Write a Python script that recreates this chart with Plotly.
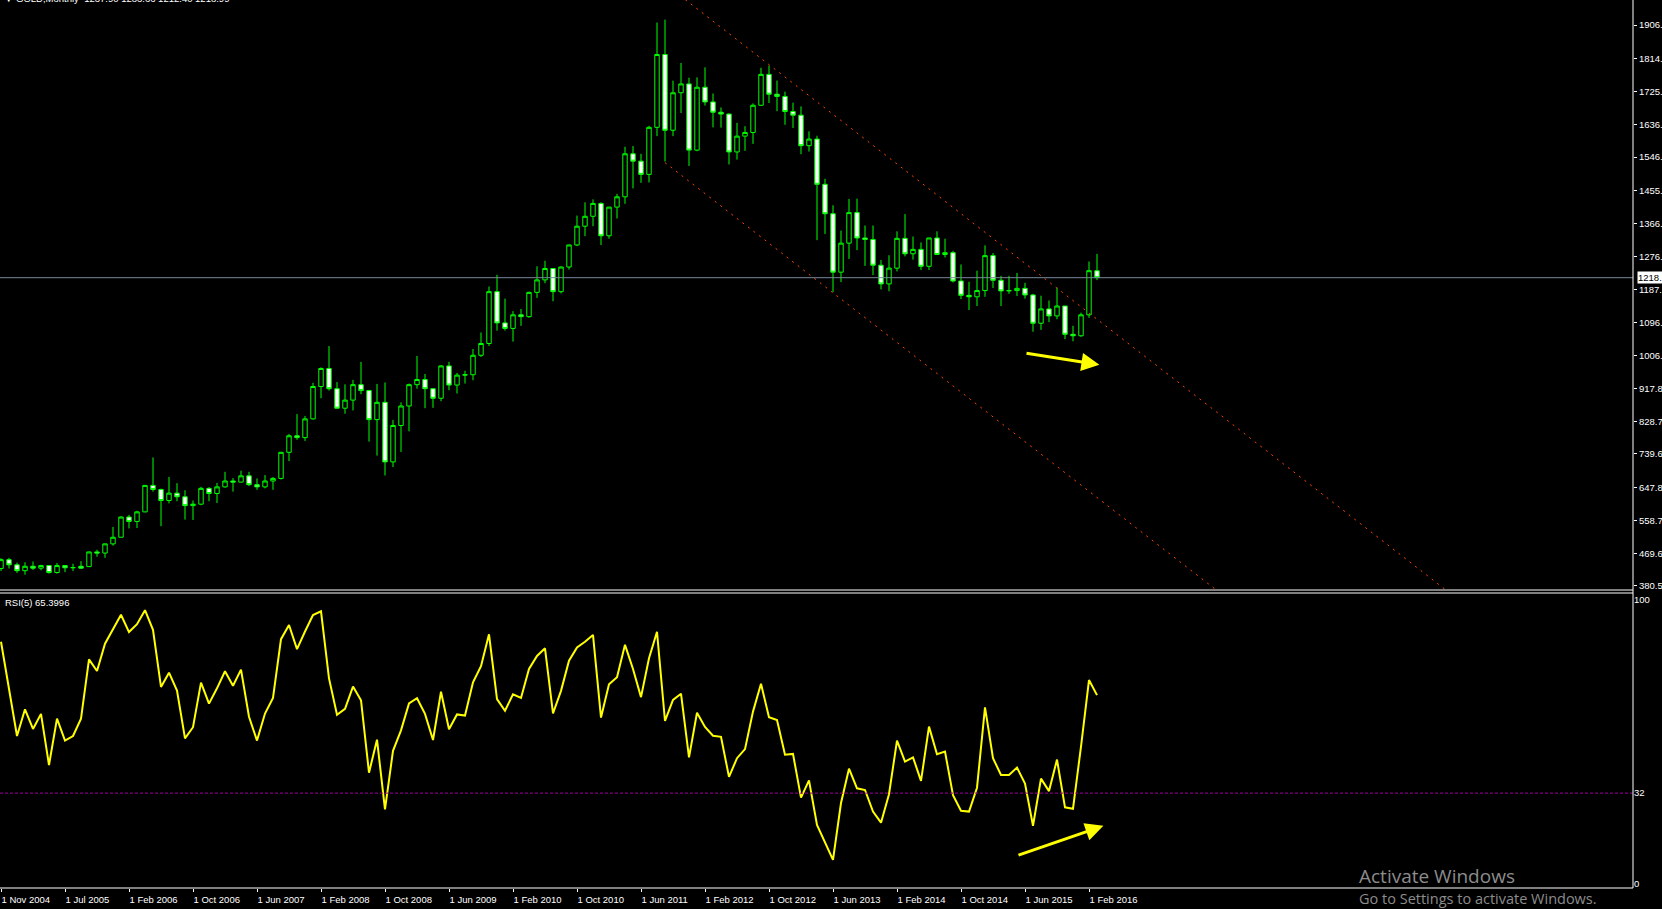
import plotly.graph_objects as go

# ---------------- data (monthly GOLD bars, index 0 = first visible bar) ----------------
bar_index = list(range(138))
opens = [428, 452, 438, 422, 434, 429, 436, 417, 436, 430, 434, 433, 473, 470, 495, 513, 568, 556, 582, 654,
         643, 613, 633, 623, 599, 603, 646, 632, 650, 666, 663, 680, 656, 650, 666, 673, 744, 789, 784, 835,
         923, 972, 917, 864, 886, 928, 912, 833, 880, 718, 817, 870, 928, 942, 917, 891, 979, 927, 954, 955,
         1008, 1040, 1181, 1096, 1081, 1118, 1113, 1179, 1213, 1244, 1181, 1248, 1308, 1359, 1386, 1421, 1333, 1411, 1439, 1556,
         1536, 1500, 1628, 1826, 1620, 1722, 1746, 1566, 1737, 1697, 1669, 1664, 1561, 1604, 1614, 1688, 1772, 1718, 1712, 1671,
         1661, 1578, 1596, 1473, 1393, 1234, 1313, 1396, 1327, 1323, 1253, 1202, 1245, 1326, 1284, 1296, 1250, 1327, 1282, 1287,
         1210, 1171, 1167, 1184, 1279, 1212, 1183, 1184, 1190, 1172, 1095, 1134, 1115, 1142, 1065, 1061, 1118, 1237.90]
highs = [456, 457, 444, 445, 447, 438, 437, 443, 437, 441, 448, 474, 479, 496, 541, 570, 574, 585, 655, 730,
         645, 677, 660, 641, 613, 650, 649, 661, 691, 674, 694, 691, 673, 682, 677, 745, 794, 848, 843, 933,
         975, 1033, 935, 929, 941, 990, 914, 930, 934, 832, 880, 931, 1006, 957, 917, 981, 990, 960, 966, 1025,
         1070, 1195, 1227, 1162, 1128, 1134, 1181, 1250, 1265, 1245, 1250, 1309, 1388, 1424, 1432, 1424, 1411, 1447, 1575, 1577,
         1556, 1632, 1913, 1921, 1755, 1803, 1763, 1764, 1791, 1720, 1682, 1666, 1640, 1631, 1693, 1790, 1796, 1755, 1725, 1695,
         1685, 1617, 1605, 1488, 1416, 1347, 1433, 1434, 1361, 1361, 1267, 1280, 1345, 1392, 1331, 1315, 1326, 1345, 1325, 1292,
         1255, 1208, 1238, 1307, 1286, 1224, 1224, 1232, 1205, 1175, 1170, 1157, 1192, 1142, 1088, 1124, 1263, 1283.66]
lows = [421, 428, 416, 411, 424, 423, 414, 414, 418, 421, 427, 432, 460, 457, 490, 513, 537, 538, 581, 637,
        543, 605, 611, 561, 560, 600, 611, 606, 648, 637, 662, 652, 642, 646, 642, 670, 720, 778, 775, 833,
        891, 912, 862, 849, 858, 902, 773, 735, 681, 704, 745, 801, 917, 864, 865, 883, 913, 904, 931, 940,
        1003, 1033, 1075, 1075, 1045, 1088, 1110, 1164, 1204, 1155, 1176, 1241, 1305, 1332, 1359, 1308, 1325, 1380, 1420, 1462,
        1477, 1478, 1604, 1535, 1604, 1667, 1523, 1563, 1687, 1628, 1627, 1527, 1540, 1564, 1583, 1686, 1694, 1672, 1635, 1626,
        1555, 1562, 1321, 1338, 1180, 1207, 1270, 1294, 1251, 1226, 1187, 1182, 1236, 1277, 1268, 1240, 1240, 1282, 1274, 1206,
        1161, 1131, 1142, 1167, 1191, 1142, 1175, 1169, 1162, 1072, 1077, 1098, 1106, 1052, 1046, 1058, 1110, 1212.40]
closes = [452, 438, 422, 434, 429, 436, 417, 436, 430, 430.5, 429, 473, 470, 495, 513, 568, 556, 582, 654, 643,
          613, 633, 623, 599, 603, 646, 632, 650, 666, 663, 680, 656, 650, 666, 673, 744, 789, 784, 835, 923,
          972, 917, 864, 886, 928, 912, 833, 880, 718, 817, 870, 928, 942, 917, 891, 979, 927, 954, 955, 1008,
          1040, 1181, 1096, 1081, 1118, 1113, 1179, 1213, 1244, 1181, 1248, 1308, 1359, 1386, 1421, 1333, 1411, 1439, 1556, 1536,
          1500, 1628, 1826, 1620, 1722, 1746, 1566, 1737, 1697, 1669, 1664, 1561, 1604, 1614, 1688, 1772, 1718, 1712, 1671, 1661,
          1578, 1596, 1473, 1393, 1234, 1313, 1396, 1327, 1323, 1253, 1202, 1245, 1326, 1284, 1296, 1250, 1327, 1282, 1287, 1210,
          1171, 1167, 1184, 1279, 1212, 1183, 1184, 1190, 1172, 1095, 1134, 1115, 1142, 1065, 1061, 1118, 1238, 1218.99]
rsi_values = [85.3, 68.9, 52.1, 61.5, 54.6, 59.9, 41.9, 58.2, 50.5, 52.1, 58.2, 79.1, 75.0, 84.6, 89.8, 94.8, 88.7, 91.5, 96.4, 89.5,
              69.4, 74.4, 68.1, 51.3, 55.2, 70.9, 63.5, 68.9, 74.9, 69.8, 75.5, 58.9, 50.5, 60.0, 65.5, 86.2, 91.2, 82.7, 88.9, 94.7,
              96.0, 72.4, 59.6, 61.7, 69.5, 64.7, 39.2, 50.8, 26.3, 46.9, 54.1, 63.6, 65.4, 59.9, 50.7, 67.7, 54.5, 59.7, 59.3, 71.0,
              76.7, 87.9, 65.1, 61.0, 66.8, 65.5, 75.7, 80.3, 83.0, 60.1, 68.0, 78.6, 83.3, 85.3, 87.7, 58.6, 70.3, 72.8, 84.2, 75.7,
              65.8, 79.5, 88.8, 57.4, 64.8, 67.0, 44.6, 60.3, 55.3, 52.2, 51.8, 37.7, 44.3, 47.5, 60.7, 70.5, 58.7, 57.7, 45.5, 45.8,
              30.4, 36.5, 20.8, 14.7, 8.5, 28.5, 40.6, 33.7, 33.1, 25.5, 21.6, 31.6, 50.5, 43.1, 44.6, 36.3, 55.4, 45.7, 46.6, 31.3,
              25.8, 25.5, 33.9, 62.2, 44.3, 38.4, 38.4, 41.0, 35.4, 20.5, 37.1, 32.7, 43.8, 27.0, 26.5, 48.4, 71.8, 66.5]

time_tick_pos = [0, 8, 16, 24, 32, 40, 48, 56, 64, 72, 80, 88, 96, 104, 112, 120, 128, 136]
time_tick_text = ["1 Nov 2004", "1 Jul 2005", "1 Feb 2006", "1 Oct 2006", "1 Jun 2007", "1 Feb 2008",
                  "1 Oct 2008", "1 Jun 2009", "1 Feb 2010", "1 Oct 2010", "1 Jun 2011", "1 Feb 2012",
                  "1 Oct 2012", "1 Jun 2013", "1 Feb 2014", "1 Oct 2014", "1 Jun 2015", "1 Feb 2016"]
price_tick_vals = [380.5, 469.6, 558.7, 647.8, 739.6, 828.7, 917.8, 1006.9, 1096.0, 1187.7,
                   1276.8, 1366.0, 1455.1, 1546.8, 1636.0, 1725.1, 1814.2, 1906.0]
price_tick_text = ["380.5", "469.6", "558.7", "647.8", "739.6", "828.7", "917.8", "1006.", "1096.", "1187.",
                   "1276.", "1366.", "1455.", "1546.", "1636.", "1725.", "1814.", "1906."]
rsi_tick_vals = [0, 32, 100]
rsi_tick_text = ["0", "32", "100"]
rsi_level = 32
last_price = 1218.99

# drawn objects (bar index, price / rsi)
upper_channel_x = [80.0, 204.0]
upper_channel_y = [2068.8, -25.6]
lower_channel_x = [83.0, 204.0]
lower_channel_y = [1532.0, -509.0]
price_arrow_tail = (128.0, 1014.0)
price_arrow_head = (137.3, 982.0)
rsi_arrow_tail = (127.0, 10.0)
rsi_arrow_head = (137.8, 20.5)

# ---------------- figure ----------------
W, H = 1662, 909
ML, MR, MT, MB = 0, 29, 0, 21
PH = H - MT - MB  # plot height in px
main_top_px, main_bot_px = 0, 590
rsi_top_px, rsi_bot_px = 593, 888


def pfrac(px):
    return (PH - px) / PH


fig = go.Figure()

fig.add_trace(go.Candlestick(
    x=bar_index, open=opens, high=highs, low=lows, close=closes,
    increasing=dict(line=dict(color="#00FF00", width=1), fillcolor="#000000"),
    decreasing=dict(line=dict(color="#00FF00", width=1), fillcolor="#FFFFFF"),
    whiskerwidth=0, showlegend=False, xaxis="x", yaxis="y", hoverinfo="skip"))

fig.add_trace(go.Scatter(x=upper_channel_x, y=upper_channel_y, mode="lines",
                         line=dict(color="#FF4500", width=1, dash="2px,5px"),
                         showlegend=False, xaxis="x", yaxis="y", hoverinfo="skip"))
fig.add_trace(go.Scatter(x=lower_channel_x, y=lower_channel_y, mode="lines",
                         line=dict(color="#FF4500", width=1, dash="2px,5px"),
                         showlegend=False, xaxis="x", yaxis="y", hoverinfo="skip"))

fig.add_trace(go.Scatter(x=bar_index, y=rsi_values, mode="lines",
                         line=dict(color="#FFFF00", width=2),
                         showlegend=False, xaxis="x", yaxis="y2", hoverinfo="skip"))

font_fam = "Tahoma, 'Liberation Sans', 'DejaVu Sans', sans-serif"
FS = 9.5

fig.update_layout(
    template="none",
    width=W, height=H,
    margin=dict(l=ML, r=MR, t=MT, b=MB, pad=0, autoexpand=False),
    paper_bgcolor="#000000", plot_bgcolor="#000000",
    showlegend=False,
    boxgap=0.45, boxgroupgap=0,
    font=dict(family=font_fam, size=FS, color="#FFFFFF"),
    xaxis=dict(range=[-0.125, 204], anchor="y2", showgrid=False, zeroline=False,
               showline=False, rangeslider=dict(visible=False), automargin=False,
               tickmode="array", tickvals=time_tick_pos, ticktext=time_tick_text,
               ticks="outside", ticklen=3, tickcolor="#FFFFFF", tickwidth=1, tickangle=0,
               ticklabelposition="outside right", ticklabelstandoff=3,
               tickfont=dict(family=font_fam, size=FS, color="#FFFFFF")),
    yaxis=dict(domain=[pfrac(main_bot_px), 1.0], range=[369.5, 1974.3], side="right",
               anchor="x", showgrid=False, zeroline=False, showline=False, automargin=False,
               tickmode="array", tickvals=price_tick_vals, ticktext=price_tick_text,
               ticks="outside", ticklen=3, tickcolor="#FFFFFF", tickwidth=1,
               tickfont=dict(family=font_fam, size=FS, color="#FFFFFF")),
    yaxis2=dict(domain=[0.0, pfrac(rsi_top_px)], range=[-1.41, 102.46], side="right",
                anchor="x", showgrid=False, zeroline=False, showline=False, automargin=False,
                tickmode="array", tickvals=rsi_tick_vals, ticktext=rsi_tick_text,
                ticks="", tickfont=dict(family=font_fam, size=FS, color="#FFFFFF")),
)

shapes = [
    # price line
    dict(type="line", xref="paper", yref="y", x0=0, x1=1, y0=last_price, y1=last_price,
         line=dict(color="#778899", width=1)),
    # RSI level
    dict(type="line", xref="paper", yref="y2", x0=0, x1=1, y0=rsi_level, y1=rsi_level,
         line=dict(color="#A000A0", width=1, dash="3px,2px")),
    # window frames
    dict(type="line", xref="paper", yref="paper", x0=0, x1=1, y0=pfrac(main_bot_px), y1=pfrac(main_bot_px),
         line=dict(color="#FFFFFF", width=1)),
    dict(type="line", xref="paper", yref="paper", x0=0, x1=1, y0=pfrac(rsi_top_px), y1=pfrac(rsi_top_px),
         line=dict(color="#FFFFFF", width=1)),
    dict(type="line", xref="paper", yref="paper", x0=0, x1=1, y0=0, y1=0,
         line=dict(color="#FFFFFF", width=1)),
    dict(type="line", xref="paper", yref="paper", x0=1, x1=1, y0=0, y1=1,
         line=dict(color="#FFFFFF", width=1)),
]
fig.update_layout(shapes=shapes)

annotations = [
    dict(text="\u25BC GOLD,Monthly  1237.90 1283.66 1212.40 1218.99", xref="paper", yref="paper",
         x=0, y=1, xanchor="left", yanchor="bottom", xshift=2, yshift=-6, showarrow=False,
         font=dict(family=font_fam, size=FS, color="#FFFFFF")),
    dict(text="RSI(5) 65.3996", xref="paper", yref="paper", x=0, y=pfrac(602),
         xanchor="left", yanchor="middle", xshift=3, showarrow=False,
         font=dict(family=font_fam, size=FS, color="#FFFFFF")),
    dict(text="1218.", xref="paper", yref="y", x=1, y=last_price, xanchor="left", yanchor="middle",
         xshift=4, showarrow=False, bgcolor="#FFFFFF", borderpad=0,
         font=dict(family=font_fam, size=FS, color="#000000")),
    dict(text="", xref="x", yref="y", x=price_arrow_head[0], y=price_arrow_head[1],
         axref="x", ayref="y", ax=price_arrow_tail[0], ay=price_arrow_tail[1],
         showarrow=True, arrowhead=2, arrowsize=1.2, arrowwidth=3, arrowcolor="#FFFF00"),
    dict(text="", xref="x", yref="y2", x=rsi_arrow_head[0], y=rsi_arrow_head[1],
         axref="x", ayref="y2", ax=rsi_arrow_tail[0], ay=rsi_arrow_tail[1],
         showarrow=True, arrowhead=2, arrowsize=1.2, arrowwidth=3, arrowcolor="#FFFF00"),
    dict(text="Activate Windows", xref="paper", yref="paper", x=1357 / 1633, y=pfrac(876),
         xanchor="left", yanchor="middle", showarrow=False,
         font=dict(family="'Open Sans', 'Noto Sans', sans-serif", size=19, color="#8C8C8C")),
    dict(text="Go to Settings to activate Windows.", xref="paper", yref="paper", x=1357 / 1633, y=pfrac(898),
         xanchor="left", yanchor="middle", showarrow=False,
         font=dict(family="'Open Sans', 'Noto Sans', sans-serif", size=14.5, color="#8C8C8C")),
]
fig.update_layout(annotations=annotations)

fig.write_html("out.html", config={"displayModeBar": False},
               post_script="document.body.style.margin='0';document.body.style.overflow='hidden';")
